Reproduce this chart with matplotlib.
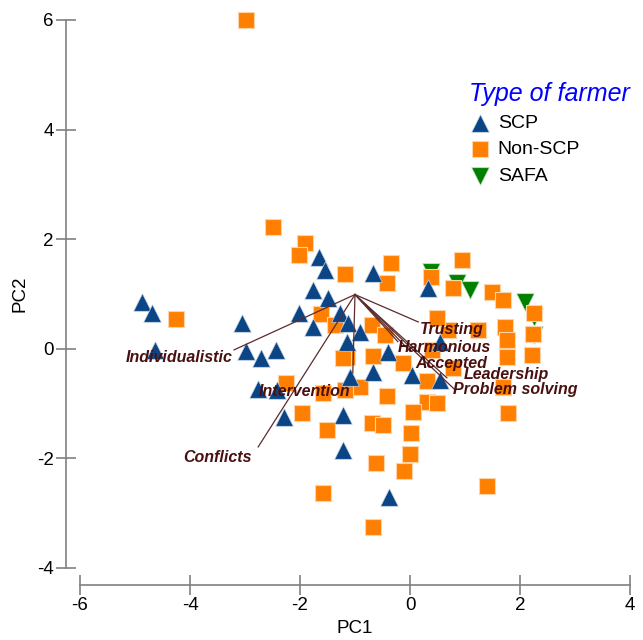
import matplotlib
matplotlib.use("Agg")
from matplotlib import pyplot as plt

plt.rcParams['font.family'] = ['Liberation Sans', 'DejaVu Sans']
plt.rcParams['axes.unicode_minus'] = False

# PCA scores
scp_x = [-4.87, -4.69, -4.64, -3.05, -2.98, -2.71, -2.44, -2.76, -2.42, -2.29,
         -2.02, -1.76, -1.76, -1.65, -1.55, -1.49, -1.27, -1.13, -0.91, -1.15,
         -0.67, 0.33, -0.40, -0.67, -1.09, 0.04, 0.55, 0.55, -1.22, -1.22, -0.38]
scp_y = [0.86, 0.66, -0.02, 0.47, -0.04, -0.16, -0.02, -0.73, -0.75, -1.24,
         0.66, 1.08, 0.40, 1.68, 1.44, 0.93, 0.66, 0.47, 0.31, 0.13,
         1.39, 1.11, -0.05, -0.42, -0.51, -0.47, -0.57, 0.13, -1.20, -1.84, -2.70]

non_scp_x = [-2.98, -4.25, -2.49, -1.91, -2.02, -1.18, -1.62, -1.36, -0.35, -0.42,
             0.38, 0.95, 0.78, 1.49, 1.69, 2.25, 1.73, 2.24, 1.76, 2.22,
             1.76, 1.69, 1.78, 1.24, 0.69, 0.49, -0.69, -0.45, -0.67, -1.15,
             -0.13, 0.31, 0.78, -0.91, -0.42, 0.31, 0.49, 0.05, -0.69, -0.49,
             0.02, 0.00, -0.62, -0.11, 1.40, -0.67, -1.58, -1.51, -1.96, -2.25,
             -1.18, -1.22, -1.58, 0.40]
non_scp_y = [6.00, 0.55, 2.23, 1.93, 1.72, 1.37, 0.64, 0.44, 1.57, 1.20,
             1.31, 1.62, 1.11, 1.04, 0.89, 0.66, 0.40, 0.27, 0.16, -0.11,
             -0.15, -0.69, -1.17, 0.35, 0.35, 0.57, 0.44, 0.26, -0.13, -0.15,
             -0.26, -0.58, -0.35, -0.69, -0.86, -0.97, -0.99, -1.15, -1.35, -1.39,
             -1.53, -1.92, -2.08, -2.23, -2.50, -3.25, -2.63, -1.48, -1.17, -0.62,
             -0.75, -0.16, -0.80, -0.02]

safa_x = [0.38, 0.85, 1.09, 2.09, 2.25, 2.25]
safa_y = [1.40, 1.20, 1.08, 0.86, 0.58, 0.26]

# loading vectors (all drawn from one origin)
vec_origin = (-1.0, 0.99)
vec_names = ['Individualistic', 'Intervention', 'Conflicts', 'Trusting',
             'Harmonious', 'Accepted', 'Leadership', 'Problem solving']
vec_end_x = [-3.20, -1.04, -2.76, 0.15, -0.22, 0.00, 0.67, 0.82]
vec_end_y = [-0.02, -0.44, -1.79, 0.49, 0.13, -0.04, -0.53, -0.75]
label_x = [-3.22, -1.09, -2.88, 0.18, -0.22, 0.09, 0.98, 0.78]
label_y = [-0.15, -0.78, -1.99, 0.35, 0.02, -0.27, -0.47, -0.74]
label_ha = ['right', 'right', 'right', 'left', 'left', 'left', 'left', 'left']

fig = plt.figure(figsize=(6.43, 6.40), dpi=100)
ax = fig.add_axes([80 / 643, 72 / 640, 550 / 643, 548 / 640])

for ex, ey in zip(vec_end_x, vec_end_y):
    ax.plot([vec_origin[0], ex], [vec_origin[1], ey], color='#5c2b2b', lw=0.9, zorder=4)

ax.scatter(safa_x, safa_y, marker='v', s=160, color='#008000',
           edgecolors='#bfe0bf', linewidths=0.5, label='SAFA', zorder=2, clip_on=False)
ax.scatter(non_scp_x, non_scp_y, marker='s', s=120, color='#ff8000',
           edgecolors='#ffd3a8', linewidths=0.8, label='Non-SCP', zorder=3, clip_on=False)
ax.scatter(scp_x, scp_y, marker='^', s=160, color='#0b4586',
           edgecolors='#c8d4e4', linewidths=0.5, label='SCP', zorder=3, clip_on=False)

for name, lx, ly, ha in zip(vec_names, label_x, label_y, label_ha):
    ax.text(lx, ly, name, ha=ha, va='center', fontsize=11.5, fontweight='bold',
            fontstyle='italic', color='#4a1010', zorder=5)

ax.set_xlim(-6, 4)
ax.set_ylim(-4, 6)
ax.set_xticks([-6, -4, -2, 0, 2, 4])
ax.set_yticks([-4, -2, 0, 2, 4, 6])
ax.spines['top'].set_visible(False)
ax.spines['right'].set_visible(False)
ax.spines['left'].set_position(('outward', 10))
ax.spines['bottom'].set_position(('outward', 12))
for side in ['left', 'bottom']:
    ax.spines[side].set_color('#808080')
    ax.spines[side].set_linewidth(1.2)
ax.tick_params(direction='inout', length=14, width=1.2, color='#808080',
               labelsize=13.5, pad=2)
ax.set_xlabel('PC1', fontsize=13.5, labelpad=4)
ax.set_ylabel('PC2', fontsize=13.5, labelpad=6)

handles, labels = ax.get_legend_handles_labels()
order = [2, 1, 0]
leg = ax.legend([handles[i] for i in order], [labels[i] for i in order],
                title='Type of farmer', loc='upper left',
                bbox_to_anchor=(455 / 643, 1 - 68 / 640), bbox_transform=fig.transFigure,
                frameon=False, fontsize=14, labelspacing=0.45, handletextpad=0.3,
                handlelength=1.2, borderpad=0.2, alignment='left')
leg.get_title().set_color('#0000ff')
leg.get_title().set_fontstyle('italic')
leg.get_title().set_fontsize(18)

fig.savefig('out.png', dpi=100)
